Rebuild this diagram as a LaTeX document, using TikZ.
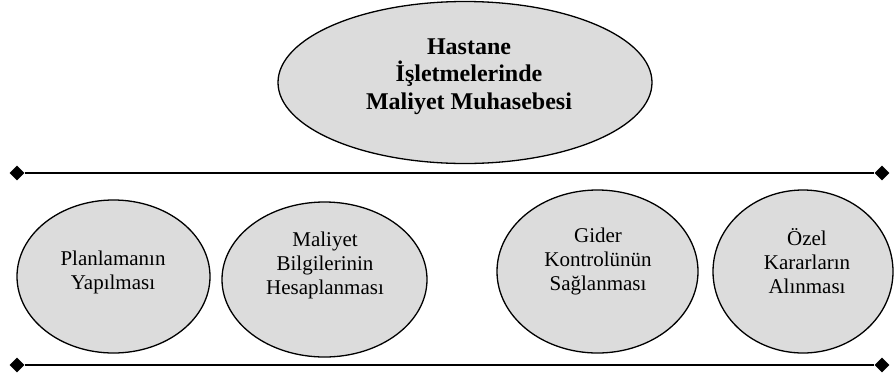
\documentclass[tikz,border=0pt]{standalone}
\usepackage{fontspec}
\setmainfont{Liberation Serif}
\usetikzlibrary{shapes.geometric}
\definecolor{bubblefill}{RGB}{220,220,220}
\begin{document}
\begin{tikzpicture}[x=1pt,y=-1pt,
  bubble/.style={ellipse, draw=black, line width=1.3pt, fill=bubblefill, inner sep=0pt},
  railtip/.style={diamond, fill=black, inner sep=0pt, minimum width=15pt, minimum height=15pt},
  rail/.style={line width=2.6pt},
  bubbletext/.style={align=center, font=\fontsize{21}{24}\selectfont, inner sep=0pt},
  titletext/.style={align=center, font=\fontsize{24}{27.6}\selectfont\bfseries, inner sep=0pt}]
\useasboundingbox (0,0) rectangle (894,378);

% main topic
\node[bubble, minimum width=374pt, minimum height=162pt] (main) at (465,82.5) {};
\node[titletext] (maintext) at (469,76.5) {Hastane\\İşletmelerinde\\Maliyet Muhasebesi};

% horizontal rails with diamond ends
\node[railtip] (tl) at (17,173) {};
\node[railtip] (tr) at (882,173) {};
\node[railtip] (bl) at (17,365) {};
\node[railtip] (br) at (882,365) {};
\draw[rail] (tl) -- (tr);
\draw[rail] (bl) -- (br);

% purposes
\node[bubble, minimum width=193pt, minimum height=153pt] (plan) at (113.5,276.5) {};
\node[bubbletext] (plantext) at (113,272) {Planlamanın\\Yapılması};

\node[bubble, minimum width=205pt, minimum height=155pt] (calc) at (324.5,279.5) {};
\node[bubbletext] (calctext) at (325,265) {Maliyet\\Bilgilerinin\\Hesaplanması};

\node[bubble, minimum width=201pt, minimum height=163pt] (ctrl) at (597.5,271.5) {};
\node[bubbletext] (ctrltext) at (598,261) {Gider\\Kontrolünün\\Sağlanması};

\node[bubble, minimum width=180pt, minimum height=163pt] (dec) at (803,271.5) {};
\node[bubbletext] (dectext) at (807,261) {Özel\\Kararların\\Alınması};
\end{tikzpicture}
\end{document}
